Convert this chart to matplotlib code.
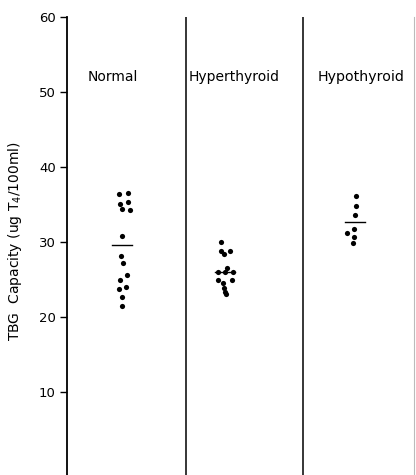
import matplotlib.pyplot as plt

# Data
groups = ['Normal', 'Hyperthyroid', 'Hypothyroid']
normal = [36.4, 36.5, 35.1, 35.4, 34.4, 34.3, 30.8, 28.2, 27.3, 25.7, 25.0, 24.1, 23.8, 22.7, 21.5]
normal_dx = [-5, 4, -4, 4, -2, 6, -2, -3, -1, 3, -4, 2, -5, -2, -2]
hyper = [30.0, 28.9, 28.8, 28.4, 26.6, 26.1, 26.1, 26.0, 25.0, 25.0, 24.6, 23.9, 23.4, 23.1]
hyper_dx = [-5, 4, -5, -2, 1, -8, 7, -1, -8, 6, -3, -2, -1, 0]
hypo = [36.2, 34.8, 33.6, 31.8, 31.2, 30.7, 29.9]
hypo_dx = [2, 2, 1, 0, -7, 0, -1]
means = [29.6, 26.0, 32.7]

# layout (x in pixel-like units of the axes)
centers = [57, 159, 287]
mean_centers = [55, 158, 288]
label_x = [46, 167, 294]
label_size = [10, 10, 10.2]
dividers = [119, 236]

fig = plt.figure(figsize=(4.16, 4.75), dpi=100)
ax = fig.add_axes([67 / 416, 0, 347 / 416, 458 / 475])

for c, vals, dx in zip(centers, [normal, hyper, hypo], [normal_dx, hyper_dx, hypo_dx]):
    ax.scatter([c + d for d in dx], vals, s=14, color='black', zorder=3, linewidths=0)

for c, m in zip(mean_centers, means):
    ax.plot([c - 10, c + 10], [m, m], color='black', lw=1.0)

for x, g, fs in zip(label_x, groups, label_size):
    ax.text(x, 52, g, ha='center', va='center', fontsize=fs)

for d in dividers:
    ax.axvline(d, color='black', lw=1.1)

ax.set_xlim(0, 347)
ax.set_ylim(-1, 60)
ax.set_yticks([10, 20, 30, 40, 50, 60])
ax.set_xticks([])
ax.tick_params(axis='y', direction='out', length=5, width=1, labelsize=9.5, pad=3)
ax.set_ylabel('TBG  Capacity (ug T$_4$/100ml)', fontsize=10)
ax.yaxis.set_label_coords(-0.125, 0.511)

ax.spines['top'].set_visible(False)
ax.spines['bottom'].set_visible(False)
ax.spines['left'].set_linewidth(1.3)
ax.spines['right'].set_color('#bbbbbb')
ax.spines['right'].set_linewidth(0.8)

fig.savefig('out.png', dpi=100)
